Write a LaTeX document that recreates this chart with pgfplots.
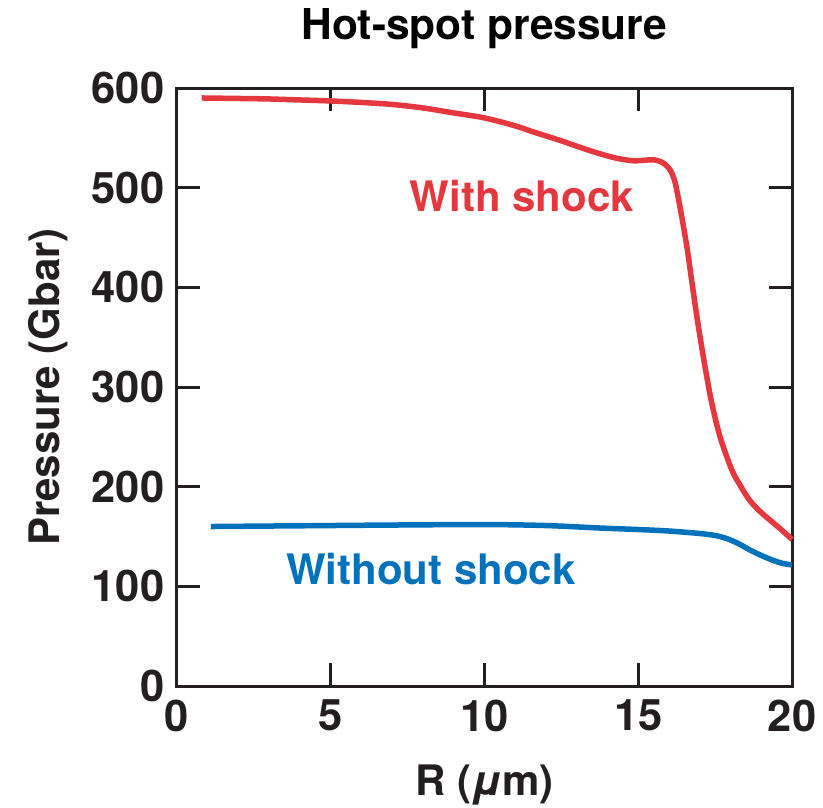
\documentclass[border=0pt]{standalone}
\usepackage{fontspec}
\setmainfont{TeX Gyre Heros}
\usepackage{pgfplots}
\pgfplotsset{compat=1.18}
\definecolor{shockred}{RGB}{228,55,62}
\definecolor{noshockblue}{RGB}{0,114,188}
\definecolor{axisblack}{RGB}{35,31,32}
\begin{document}
\begin{tikzpicture}
\useasboundingbox (-177pt,-121pt) rectangle (646pt,686pt);
\begin{axis}[
  scale only axis, width=615pt, height=598pt,
  xmin=0, xmax=20, ymin=0, ymax=600,
  xtick={0,5,10,15,20}, ytick={0,100,200,300,400,500,600},
  tick align=inside, major tick length=23pt,
  every tick/.style={line width=3pt, axisblack},
  axis line style={line width=3pt, axisblack},
  tick label style={font=\fontsize{43.5}{50}\selectfont\bfseries, text=axisblack, inner sep=2pt},
  /pgf/number format/assume math mode=true,
  xticklabel style={yshift=-11.5pt},
  yticklabel style={xshift=-10.5pt},
  clip=false,
]
\addplot[shockred, line width=5.5pt, smooth, tension=0.5] coordinates {
(0.8,590) (2,589.5) (3,589) (4,588) (5,587) (6,585.5) (7,583.5) (8,580) (9,575)
(10,570) (11,562) (11.58,556) (12.4,548) (13.2,539.5) (13.76,534) (14.3,529.5)
(14.83,527) (15.2,527.5) (15.5,528) (15.8,525) (16.03,518) (16.2,505) (16.42,470)
(16.6,437) (16.75,404) (16.91,370) (17.08,337) (17.19,317) (17.39,284) (17.66,250)
(18.04,217) (18.3,202) (18.63,186) (19,174) (19.38,164) (19.7,155.5) (20,147)
};
\addplot[noshockblue, line width=5.5pt, smooth, tension=0.5] coordinates {
(1.1,160) (3,160.5) (5,161) (7,161.5) (10,162) (12,161) (13.76,158.5) (15,157)
(16,155.5) (17,153) (17.5,151) (17.87,148) (18.25,143) (18.63,136.5) (19,131)
(19.39,126) (19.7,123) (20,121.5)
};
\node[anchor=base, text=shockred, font=\fontsize{42}{48}\selectfont\bfseries] at (axis cs:11.22,476) {With shock};
\node[anchor=base, text=noshockblue, font=\fontsize{42}{48}\selectfont\bfseries] at (axis cs:8.26,101.5) {Without shock};
\node[anchor=base, text=black, font=\fontsize{42.5}{48}\selectfont\bfseries] at (rel axis cs:0.5,1) [yshift=49pt] {Hot-spot pressure};
\node[anchor=base, text=axisblack, font=\fontsize{42}{48}\selectfont\bfseries] at (rel axis cs:0.5,0) [yshift=-109pt] {R ({\itshape μ}m)};
\node[anchor=base, rotate=90, text=axisblack, font=\fontsize{42}{48}\selectfont\bfseries] at (rel axis cs:0,0.5) [yshift=117pt] {Pressure (Gbar)};
\end{axis}
\end{tikzpicture}
\end{document}
